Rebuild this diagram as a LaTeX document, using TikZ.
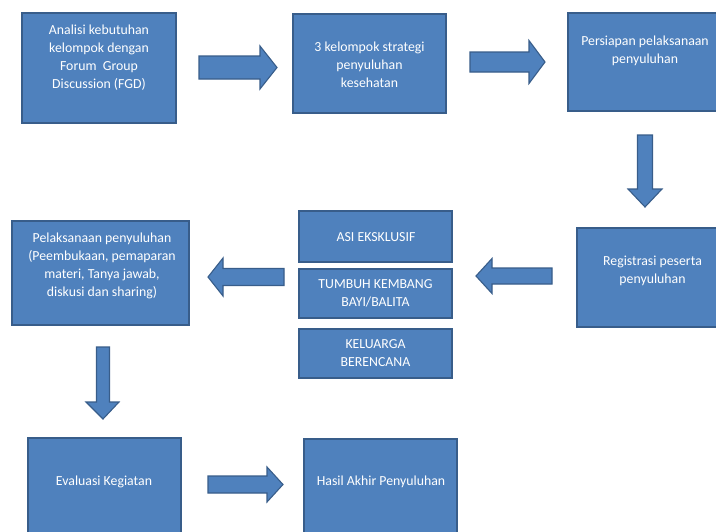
\documentclass[tikz,border=0pt]{standalone}
\usepackage{fontspec}
\setmainfont{Carlito}
\definecolor{boxfill}{HTML}{4F81BD}
\definecolor{boxline}{HTML}{385D8A}
\begin{document}
\begin{tikzpicture}[x=1pt,y=-1pt,
  box/.style={draw=boxline, fill=boxfill, line width=1.5pt, inner sep=0pt, rectangle},
  txt/.style={text=white, font=\fontsize{13.8}{18}\selectfont, align=center, inner sep=0pt},
  barrow/.style={draw=boxline, fill=boxfill, line width=1.1pt, line join=miter}]
\clip (0,0) rectangle (716,531);
\fill[white] (0,0) rectangle (716,531);
% boxes
\node[box, minimum width=154pt, minimum height=110pt] (b1) at (99,68) {};
\node[box, minimum width=153pt, minimum height=99pt] (b2) at (369.5,63.5) {};
\node[box, minimum width=152pt, minimum height=98pt] (b3) at (644,62) {};
\node[box, minimum width=143pt, minimum height=99pt] (b4) at (648.5,277.5) {};
\node[box, minimum width=153pt, minimum height=51pt] (m1) at (375.5,236.5) {};
\node[box, minimum width=153pt, minimum height=49pt] (m2) at (375.5,293.5) {};
\node[box, minimum width=153pt, minimum height=49pt] (m3) at (375.5,353.5) {};
\node[box, minimum width=177pt, minimum height=104pt] (b5) at (100.5,273) {};
\node[box, minimum width=153pt, minimum height=107pt] (b6) at (104.5,491.5) {};
\node[box, minimum width=153pt, minimum height=106pt] (b7) at (380.5,492) {};
% texts
\node[txt] (t1) at (99,58) {Analisi kebutuhan\\kelompok dengan\\Forum\ \ Group\\Discussion (FGD)};
\node[txt] (t2) at (369.5,65) {3 kelompok strategi\\penyuluhan\\kesehatan};
\node[txt] (t3) at (645,50.5) {Persiapan pelaksanaan\\penyuluhan};
\node[txt] (t4) at (652.5,271) {Registrasi peserta\\penyuluhan};
\node[txt] (tm1) at (376,237) {ASI EKSKLUSIF};
\node[txt] (tm2) at (375.5,293) {TUMBUH KEMBANG\\BAYI/BALITA};
\node[txt] (tm3) at (375.5,353.5) {KELUARGA\\BERENCANA};
\node[txt] (t5) at (102,266) {Pelaksanaan penyuluhan\\(Peembukaan, pemaparan\\materi, Tanya jawab,\\diskusi dan sharing)};
\node[txt] (t6) at (104,482) {Evaluasi Kegiatan};
\node[txt] (t7) at (381,482) {Hasil Akhir Penyuluhan};
% block arrows
\draw[barrow] (199,56)--(260,56)--(260,46)--(277,67.5)--(260,89)--(260,79)--(199,79)--cycle;
\draw[barrow] (470,52)--(529,52)--(529,40.5)--(545,62)--(529,83.5)--(529,72)--(470,72)--cycle;
\draw[barrow] (637.5,135)--(652.5,135)--(652.5,189)--(662,189)--(645,207)--(628,189)--(637.5,189)--cycle;
\draw[barrow] (552,268)--(492,268)--(492,258.5)--(476,276)--(492,293.5)--(492,284)--(552,284)--cycle;
\draw[barrow] (284,268.5)--(223,268.5)--(223,258)--(208,277)--(223,296)--(223,285.5)--(284,285.5)--cycle;
\draw[barrow] (96.5,347)--(109.5,347)--(109.5,402)--(119,402)--(103,419)--(86,402)--(96.5,402)--cycle;
\draw[barrow] (208,476)--(267,476)--(267,467)--(283,484.5)--(267,502)--(267,493)--(208,493)--cycle;
\end{tikzpicture}
\end{document}
